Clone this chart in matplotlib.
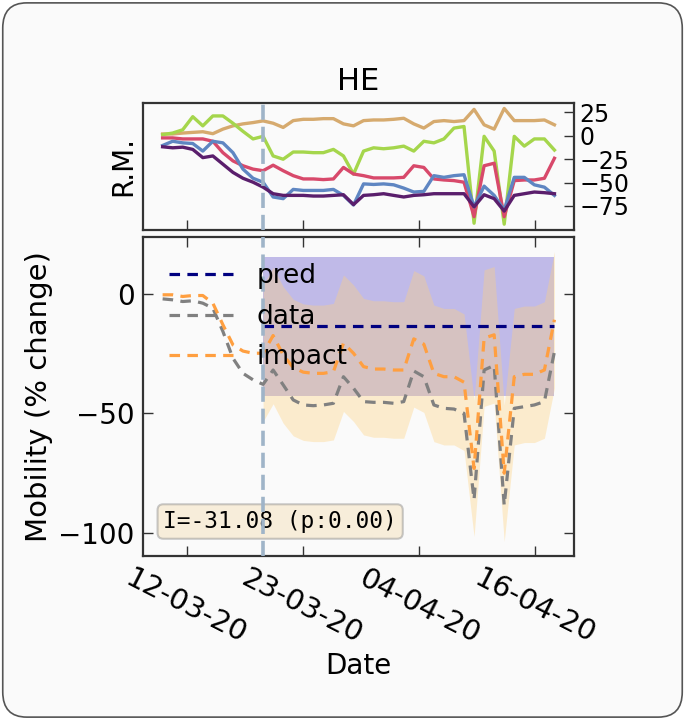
import numpy as np
import matplotlib.pyplot as plt
from matplotlib.patches import FancyBboxPatch

# days since 10-03-20
day = np.arange(40)
t0 = 10  # intervention day
tick_pos = np.linspace(2.38, 37.06, 4)
tick_labels = ["12-03-20", "23-03-20", "04-04-20", "16-04-20"]

# mobility reports (top panel)
residential = [2, 2, 3, 3.7, 4.4, 2.3, 7.2, 10.7, 12.8, 14.2, 16, 13.5, 9, 16.3, 17.7, 17.7, 18.4, 18.4, 12.8, 10.7,
               16.3, 17, 17, 17.7, 18.8, 12.8, 8.3, 15.3, 16.3, 15.3, 16.3, 28.3, 11.8, 7.2, 29.3, 16.3, 16.3, 16.3, 17, 11.8]
parks = [1.3, 3, 6.5, 20.5, 10.7, 21.3, 21.3, 13.5, 4.8, -3.3, -0.5, -21.5, -25, -17.3, -17.3, -18, -18, -14.5, -21.5, -41,
         -16.3, -12.8, -13.8, -12.8, -11, -16.3, -5.8, -7.5, -3.3, 8.3, 10, -93.5, -0.5, -16.3, -94.5, -0.5, -11, -3.3, -3.3, -15.2]
grocery = [-2.2, -2.2, -3.3, -3.3, -3.3, -5.8, -18, -26.8, -32, -35.6, -37.3, -31.4, -37.3, -42.6, -46.1, -46.1, -46.8, -46.1, -33.8, -40.8,
           -42.6, -45, -45, -45, -44.4, -32, -33.8, -46.1, -47.2, -47.9, -49.6, -86.5, -32, -29.3, -86.5, -47.9, -47.2, -47.2, -45.4, -24]
transit = [-10.3, -5.8, -7.5, -8.2, -16.3, -5.8, -7.5, -18, -35.6, -45.4, -49.6, -65.4, -67.2, -57.3, -58.4, -58.4, -58.4, -57.3, -63.7, -74,
           -51.4, -52, -51.4, -52.4, -55.9, -60.1, -59.4, -42.6, -44.4, -42.6, -41.6, -75.9, -53.8, -63.7, -79.4, -44.4, -44.4, -52.4, -54.9, -63.7]
retail = [-11.7, -12.8, -12.1, -14.5, -23.3, -21.5, -30.3, -39.1, -45.4, -49.6, -54.9, -61.9, -63.7, -63.7, -63.7, -64.4, -64.4, -63.7, -63, -73.5,
          -63.7, -63, -61.9, -63.7, -65.4, -63.7, -63, -61.9, -61.9, -61.9, -61.9, -75.9, -63, -67.2, -80.5, -63.7, -61.9, -60.1, -60.8, -61.9]

# bottom panel
data = [-2.2, -2.6, -3.3, -3, -4, -6.1, -15.8, -27, -33.3, -36, -37.9, -31.9, -38.1, -44.4, -46.5, -46.8, -46.5, -45.8, -34.7, -39.5,
        -45.1, -45.4, -45.4, -45.8, -45.1, -32.3, -34.7, -46.5, -47.9, -48.2, -50, -86, -31.9, -30, -88.4, -47.9, -47.2, -46.5, -45.1, -24.2]
impact = [-0.5, -0.5, -1.2, -0.8, -0.8, -4, -13, -21.4, -24, -24.9, -24.9, -17.5, -25.6, -30.9, -32.8, -33.3, -33.3, -32.6, -20.7, -24.9,
          -30.5, -31.5, -31.5, -31.9, -31.9, -18.9, -21.1, -33.3, -34.7, -34.7, -37, -73, -18.6, -17.2, -75, -34.7, -33.7, -33.7, -31.9, -10.9]
pred = -13.6
pred_ci = 29.0
impact_ci = 28.5

fig = plt.figure(figsize=(6.85, 7.2), dpi=100, facecolor="white")
fig.patches.append(FancyBboxPatch((0.004, 0.004), 0.992, 0.992, boxstyle="round,pad=0,rounding_size=0.035",
                                  transform=fig.transFigure, fc="#fafafa", ec="#555555", lw=1.2, zorder=-10))

ax1 = fig.add_axes([0.2088, 0.6806, 0.6292, 0.1768])
ax2 = fig.add_axes([0.2088, 0.2278, 0.6292, 0.4431], sharex=ax1)

for ax in (ax1, ax2):
    ax.set_facecolor("#fafafa")
    for s in ax.spines.values():
        s.set_color("#333333")
        s.set_linewidth(1.6)
    ax.axvline(t0, color="#9fb4c8", ls="--", lw=2.6, dashes=(4.2, 1.9), zorder=4)

# top panel
ax1.plot(day, residential, color="#d6aa6e", lw=2.4)
ax1.plot(day, parks, color="#a5d64c", lw=2.4)
ax1.plot(day, grocery, color="#d8496b", lw=2.4)
ax1.plot(day, transit, color="#5f86c2", lw=2.4)
ax1.plot(day, retail, color="#5a1e6c", lw=2.4)
ax1.yaxis.tick_right()
ax1.set_yticks([25, 0, -25, -50, -75])
ax1.tick_params(axis="both", direction="in", length=7, width=1, colors="#333333", labelcolor="black", labelsize=17, pad=4)
ax1.tick_params(axis="x", labelbottom=False)
ax1.set_ylabel("R.M.", fontsize=20)
ax1.set_title("HE", fontsize=22, pad=9)

# bottom panel
dd = day[t0:]
ax2.fill_between(dd, pred - pred_ci, pred + pred_ci, color="slateblue", alpha=0.4, lw=0)
imp = np.array(impact[t0:])
ax2.fill_between(dd, imp - impact_ci, imp + impact_ci, color="#ffd27e", alpha=0.36, lw=0)
dash = (3.3, 2.3)
ax2.plot(dd, np.full(len(dd), pred), color="navy", ls="--", dashes=dash, lw=2.3, label="pred")
ax2.plot(day, data, color="gray", ls="--", dashes=dash, lw=2.3, label="data")
ax2.plot(day, impact, color="#ff9f40", ls="--", dashes=dash, lw=2.3, label="impact")
ax2.set_yticks([0, -50, -100])
ax2.tick_params(axis="both", direction="in", length=7, width=1, colors="#333333", labelcolor="black",
                labelsize=20, pad=6, top=True, right=True)
ax2.set_xticks(tick_pos)
ax2.set_xticklabels(tick_labels, rotation=-27, ha="center", fontsize=21)
ax2.set_xlabel("Date", fontsize=20, labelpad=2)
ax2.set_ylabel("Mobility (% change)", fontsize=21)
ax2.legend(loc="upper left", frameon=False, fontsize=19, handlelength=2.4, labelspacing=0.55, handletextpad=0.9,
           borderaxespad=0.6)
ax2.text(0.047, 0.072, "I=-31.08 (p:0.00)", transform=ax2.transAxes, fontsize=16.5, family="DejaVu Sans Mono",
         va="bottom", ha="left", bbox=dict(boxstyle="round,pad=0.25", fc="wheat", ec="#888888", alpha=0.45, lw=1.5))

fig.savefig("out.png", dpi=100, facecolor=fig.get_facecolor())
